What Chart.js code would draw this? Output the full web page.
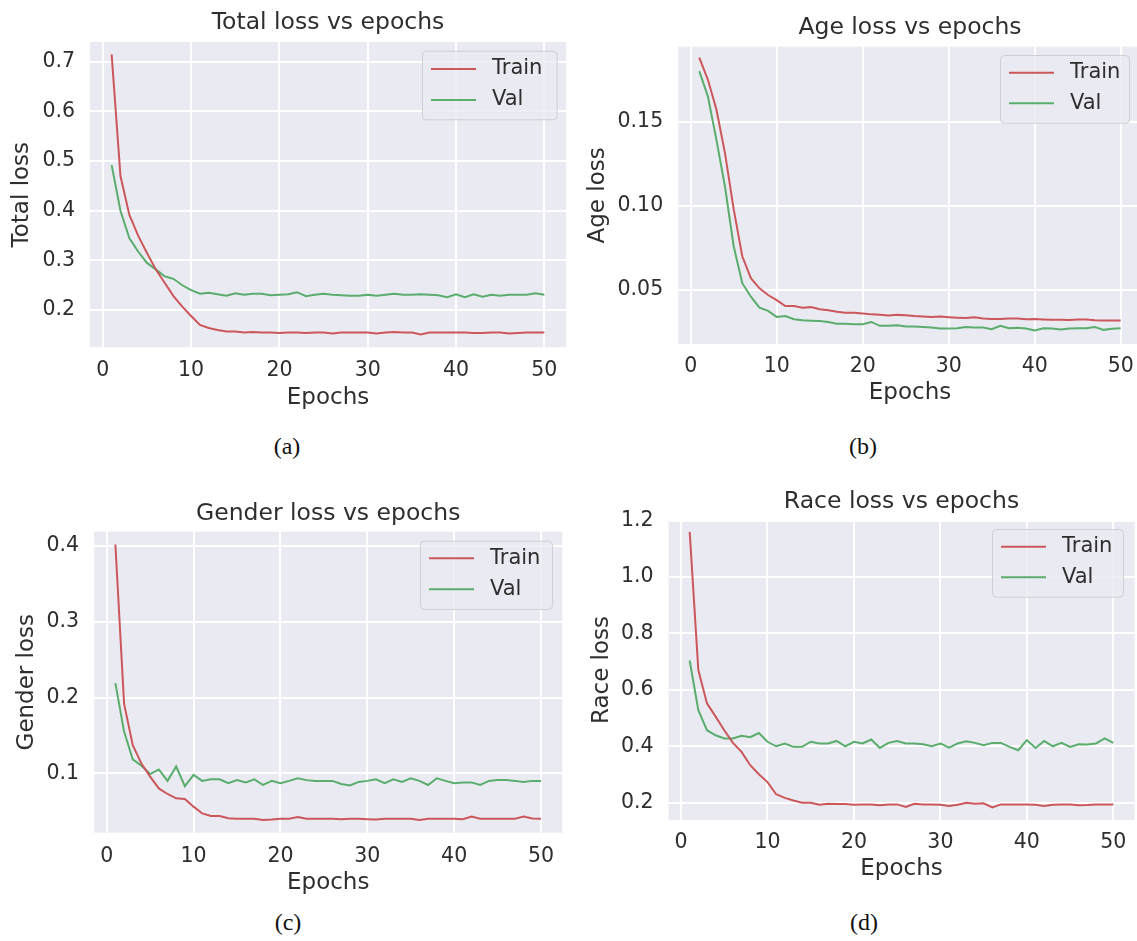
<!DOCTYPE html>
<html><head><meta charset="utf-8">
<script src="https://cdn.jsdelivr.net/npm/chart.js@4.4.1/dist/chart.umd.min.js"></script>
<style>
html,body{margin:0;padding:0;background:#fff;width:1137px;height:941px;overflow:hidden;position:relative}
canvas{position:absolute}
.cap{position:absolute;font-family:"Liberation Serif","DejaVu Serif",serif;font-size:24px;color:#111;transform:translate(-50%,-50%);white-space:nowrap}
</style></head><body>
<canvas id="cA"></canvas>
<canvas id="cB"></canvas>
<canvas id="cC"></canvas>
<canvas id="cD"></canvas>
<div class="cap" style="left:287px;top:446px">(a)</div>
<div class="cap" style="left:863px;top:446px">(b)</div>
<div class="cap" style="left:288px;top:922px">(c)</div>
<div class="cap" style="left:864px;top:922px">(d)</div>
<script>
// ---------- data ----------
const epochs = [1,2,3,4,5,6,7,8,9,10,11,12,13,14,15,16,17,18,19,20,21,22,23,24,25,26,27,28,29,30,31,32,33,34,35,36,37,38,39,40,41,42,43,44,45,46,47,48,49,50];
const seriesLabels = ['Train', 'Val'];
const xTicks = [0, 10, 20, 30, 40, 50];
const xTickLabels = ['0', '10', '20', '30', '40', '50'];

const totalTrain = [0.715,0.470,0.392,0.350,0.315,0.282,0.255,0.228,0.207,0.188,0.170,0.164,0.160,0.157,0.157,0.155,0.156,0.155,0.155,0.154,0.155,0.155,0.154,0.155,0.155,0.153,0.155,0.155,0.155,0.155,0.153,0.155,0.156,0.155,0.155,0.151,0.155,0.155,0.155,0.155,0.155,0.154,0.154,0.155,0.155,0.153,0.154,0.155,0.155,0.155];
const totalVal = [0.492,0.400,0.345,0.318,0.295,0.282,0.268,0.263,0.250,0.240,0.233,0.235,0.232,0.229,0.234,0.231,0.233,0.233,0.230,0.231,0.232,0.236,0.228,0.231,0.233,0.231,0.230,0.229,0.229,0.231,0.229,0.231,0.233,0.231,0.231,0.232,0.231,0.230,0.226,0.232,0.226,0.232,0.227,0.231,0.229,0.231,0.231,0.231,0.234,0.231];
const totalYTicks = [0.2, 0.3, 0.4, 0.5, 0.6, 0.7];
const totalYLabels = ['0.2', '0.3', '0.4', '0.5', '0.6', '0.7'];

const ageTrain = [0.188,0.175,0.157,0.131,0.098,0.070,0.057,0.051,0.047,0.044,0.0405,0.0405,0.0395,0.0398,0.0385,0.038,0.037,0.0365,0.0365,0.036,0.0355,0.0353,0.0348,0.0352,0.035,0.0345,0.0342,0.034,0.0342,0.0338,0.0335,0.0333,0.0338,0.033,0.0328,0.0328,0.033,0.033,0.0326,0.0328,0.0325,0.0323,0.0323,0.0322,0.0325,0.0325,0.032,0.0318,0.0318,0.0318];
const ageVal = [0.180,0.165,0.139,0.111,0.076,0.054,0.046,0.0395,0.0376,0.034,0.0345,0.0326,0.032,0.0317,0.0315,0.031,0.030,0.030,0.0297,0.0297,0.031,0.0287,0.0287,0.029,0.0283,0.0283,0.028,0.0277,0.0271,0.0271,0.0273,0.028,0.0277,0.0277,0.0267,0.0287,0.0273,0.0275,0.0271,0.026,0.0273,0.0271,0.0265,0.0271,0.0273,0.0273,0.028,0.0263,0.027,0.0273];
const ageYTicks = [0.05, 0.10, 0.15];
const ageYLabels = ['0.05', '0.10', '0.15'];

const genderTrain = [0.402,0.192,0.137,0.113,0.0956,0.080,0.0727,0.067,0.066,0.056,0.047,0.0437,0.0437,0.0406,0.040,0.040,0.040,0.0384,0.039,0.040,0.040,0.0424,0.040,0.040,0.040,0.040,0.0395,0.040,0.040,0.0395,0.039,0.040,0.040,0.040,0.040,0.0385,0.040,0.040,0.040,0.040,0.0395,0.0428,0.040,0.040,0.040,0.040,0.040,0.0428,0.0405,0.040];
const genderVal = [0.219,0.155,0.1185,0.110,0.099,0.105,0.090,0.109,0.083,0.098,0.090,0.092,0.092,0.087,0.091,0.088,0.092,0.0846,0.090,0.087,0.090,0.0934,0.091,0.090,0.090,0.090,0.086,0.084,0.0886,0.090,0.092,0.087,0.092,0.0886,0.0934,0.090,0.0846,0.0934,0.090,0.087,0.088,0.088,0.0846,0.090,0.091,0.091,0.090,0.0886,0.090,0.090];
const genderYTicks = [0.1, 0.2, 0.3, 0.4];
const genderYLabels = ['0.1', '0.2', '0.3', '0.4'];

const raceTrain = [1.160,0.670,0.552,0.505,0.457,0.412,0.380,0.333,0.301,0.273,0.230,0.217,0.208,0.200,0.200,0.193,0.196,0.195,0.195,0.193,0.194,0.194,0.191,0.194,0.194,0.185,0.196,0.194,0.194,0.193,0.188,0.193,0.200,0.196,0.198,0.183,0.194,0.194,0.194,0.194,0.193,0.188,0.193,0.194,0.194,0.191,0.192,0.194,0.194,0.194];
const raceVal = [0.704,0.528,0.457,0.439,0.428,0.428,0.437,0.432,0.447,0.416,0.400,0.410,0.398,0.398,0.416,0.410,0.410,0.419,0.400,0.416,0.410,0.424,0.394,0.412,0.419,0.410,0.410,0.407,0.400,0.410,0.395,0.410,0.418,0.412,0.404,0.412,0.412,0.398,0.386,0.422,0.394,0.419,0.400,0.412,0.398,0.407,0.406,0.410,0.428,0.412];
const raceYTicks = [0.2, 0.4, 0.6, 0.8, 1.0, 1.2];
const raceYLabels = ['0.2', '0.4', '0.6', '0.8', '1.0', '1.2'];

// ---------- style ----------
const RED = '#cc575b';
const GREEN = '#5aad6c';
const TXT = '#2e2e2e';
const FONT = '"DejaVu Sans", sans-serif';
const TICK_SIZE = 20.5, LABEL_SIZE = 23, TITLE_SIZE = 23.5, LEGEND_SIZE = 21;

const decoPlugin = {
  id: 'deco',
  beforeDraw(chart, args, o) {
    const {ctx, chartArea: a} = chart;
    ctx.save();
    ctx.fillStyle = '#eaeaf2';
    ctx.fillRect(a.left, a.top, a.right - a.left, a.bottom - a.top);
    ctx.restore();
  },
  afterDraw(chart, args, o) {
    const {ctx, chartArea: a} = chart;
    ctx.save();
    // title
    ctx.font = TITLE_SIZE + 'px ' + FONT;
    ctx.fillStyle = TXT;
    ctx.textAlign = 'center';
    ctx.textBaseline = 'middle';
    ctx.fillText(o.title, (a.left + a.right) / 2, o.titleY - o.cy);
    // legend
    const L = o.legend;
    const x0 = L.x0 - o.cx, y0 = L.y0 - o.cy;
    ctx.beginPath();
    ctx.roundRect(x0 + 0.5, y0 + 0.5, L.w, L.h, 4);
    ctx.fillStyle = 'rgba(234,234,242,0.8)';
    ctx.fill();
    ctx.strokeStyle = '#cfcfd4';
    ctx.lineWidth = 1;
    ctx.stroke();
    chart.data.datasets.forEach((ds, i) => {
      const ry = L.rows[i] - o.cy;
      ctx.beginPath();
      ctx.moveTo(x0 + 9, ry);
      ctx.lineTo(x0 + 54, ry);
      ctx.strokeStyle = ds.borderColor;
      ctx.lineWidth = 2;
      ctx.stroke();
      ctx.font = LEGEND_SIZE + 'px ' + FONT;
      ctx.fillStyle = TXT;
      ctx.textAlign = 'left';
      ctx.textBaseline = 'middle';
      ctx.fillText(ds.label, x0 + 70, ry);
    });
    ctx.restore();
  }
};

function makePanel(id, g, train, val, yTicks, yLabels, yName, title) {
  const cv = document.getElementById(id);
  cv.width = g.cw; cv.height = g.ch;
  cv.style.left = g.cx + 'px'; cv.style.top = g.cy + 'px';
  const lhT = TICK_SIZE * 1.2, lhL = LABEL_SIZE * 1.2;
  const pts = arr => epochs.map((e, i) => ({x: e, y: arr[i]}));
  new Chart(cv, {
    type: 'line',
    data: {datasets: [
      {label: seriesLabels[0], data: pts(train), borderColor: RED, borderWidth: 2, pointRadius: 0, tension: 0, fill: false},
      {label: seriesLabels[1], data: pts(val), borderColor: GREEN, borderWidth: 2, pointRadius: 0, tension: 0, fill: false}
    ]},
    options: {
      responsive: false, animation: false, devicePixelRatio: 1,
      layout: {padding: {left: 0, top: g.T - g.cy, right: g.cx + g.cw - g.R, bottom: 0}},
      plugins: {
        legend: {display: false}, tooltip: {enabled: false}, title: {display: false},
        deco: {title: title, titleY: g.titleY, cx: g.cx, cy: g.cy, legend: g.legend}
      },
      scales: {
        x: {
          type: 'linear', min: -1.45, max: 52.45,
          afterBuildTicks: s => { s.ticks = xTicks.map(v => ({value: v})); },
          afterFit: s => { s.height = g.cy + g.ch - g.B; },
          grid: {color: '#ffffff', lineWidth: 2, drawTicks: false},
          border: {display: false},
          ticks: {padding: g.tickY - g.B - lhT / 2, color: TXT, font: {family: FONT, size: TICK_SIZE}, maxRotation: 0, autoSkip: false,
                  callback: (v, i) => xTickLabels[i]},
          title: {display: true, text: 'Epochs', color: TXT, font: {family: FONT, size: LABEL_SIZE}, padding: {top: 0, bottom: g.cy + g.ch - g.xlabY - lhL / 2}}
        },
        y: {
          type: 'linear', min: g.ymin, max: g.ymax,
          afterBuildTicks: s => { s.ticks = yTicks.map(v => ({value: v})); },
          afterFit: s => { s.width = g.L - g.cx; },
          grid: {color: '#ffffff', lineWidth: 2, drawTicks: false},
          border: {display: false},
          ticks: {padding: 15, color: TXT, font: {family: FONT, size: TICK_SIZE}, autoSkip: false,
                  callback: (v, i) => yLabels[i]},
          title: {display: true, text: yName, color: TXT, font: {family: FONT, size: LABEL_SIZE}, padding: {top: g.ylabX - g.cx - lhL / 2, bottom: 0}}
        }
      }
    },
    plugins: [decoPlugin]
  });
}

makePanel('cA', {cx: 0, cy: 0, cw: 600, ch: 420, L: 90, T: 42, R: 566, B: 347.3, ymin: 0.125, ymax: 0.740,
  titleY: 23.3, ylabX: 22, xlabY: 398, tickY: 371,
  legend: {x0: 422, y0: 50.7, w: 134.6, h: 68.6, rows: [69, 100]}},
  totalTrain, totalVal, totalYTicks, totalYLabels, 'Total loss', 'Total loss vs epochs');

makePanel('cB', {cx: 575, cy: 0, cw: 610, ch: 420, L: 678.2, T: 46.7, R: 1141.8, B: 344, ymin: 0.0179, ymax: 0.1945,
  titleY: 28.3, ylabX: 598, xlabY: 393, tickY: 366.7,
  legend: {x0: 1000, y0: 55, w: 129, h: 67.7, rows: [72.7, 103.3]}},
  ageTrain, ageVal, ageYTicks, ageYLabels, 'Age loss', 'Age loss vs epochs');

makePanel('cC', {cx: 0, cy: 480, cw: 600, ch: 420, L: 94.1, T: 531.7, R: 562.3, B: 832.7, ymin: 0.0216, ymax: 0.4189,
  titleY: 514, ylabX: 27, xlabY: 883, tickY: 856.7,
  legend: {x0: 420, y0: 540.7, w: 132, h: 68.3, rows: [558.3, 589.3]}},
  genderTrain, genderVal, genderYTicks, genderYLabels, 'Gender loss', 'Gender loss vs epochs');

makePanel('cD', {cx: 575, cy: 470, cw: 610, ch: 430, L: 668.5, T: 520, R: 1134.5, B: 820, ymin: 0.1387, ymax: 1.202,
  titleY: 502.3, ylabX: 602.5, xlabY: 869, tickY: 842.7,
  legend: {x0: 992, y0: 529, w: 131, h: 67.7, rows: [546.7, 577.3]}},
  raceTrain, raceVal, raceYTicks, raceYLabels, 'Race loss', 'Race loss vs epochs');
</script>
</body></html>
